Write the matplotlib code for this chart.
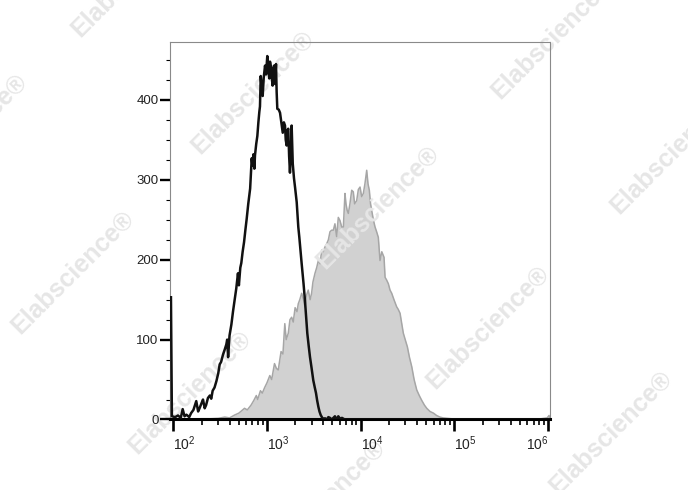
import matplotlib
matplotlib.use('Agg')
import matplotlib.pyplot as plt
from matplotlib.ticker import MultipleLocator, LogLocator, NullFormatter
import numpy as np

plt.rcParams['font.family'] = ['Liberation Sans', 'DejaVu Sans']
plt.rcParams['mathtext.fontset'] = 'custom'
plt.rcParams['mathtext.rm'] = 'Liberation Sans'

# --------------------------
# histogram data (log10 intensity, count)
# --------------------------
# unstained control (black line)
ctrl_log = [1.975, 1.985, 2.02, 2.05, 2.08, 2.10, 2.12, 2.14, 2.17, 2.19, 2.215, 2.245, 2.265,
            2.28, 2.30, 2.317, 2.335, 2.35, 2.37, 2.39, 2.405, 2.42, 2.44, 2.46, 2.48, 2.495,
            2.51, 2.53, 2.55, 2.566, 2.575, 2.585, 2.60, 2.62, 2.637, 2.655, 2.672, 2.69, 2.70,
            2.715, 2.726, 2.74, 2.755, 2.77, 2.783, 2.80, 2.82, 2.837, 2.845, 2.855, 2.865,
            2.872, 2.885, 2.897, 2.908, 2.918, 2.925, 2.933, 2.943, 2.954, 2.965, 2.979, 2.99,
            3.003, 3.012, 3.025, 3.032, 3.039, 3.05, 3.06, 3.068, 3.075, 3.086, 3.096, 3.103,
            3.11, 3.125, 3.139, 3.153, 3.168, 3.18, 3.192, 3.20, 3.21, 3.218, 3.227, 3.236,
            3.245, 3.255, 3.263, 3.275, 3.288, 3.30, 3.317, 3.334, 3.345, 3.37, 3.39, 3.405,
            3.43, 3.445, 3.459, 3.475, 3.494, 3.51, 3.523, 3.535, 3.548, 3.56, 3.573, 3.59,
            3.605, 3.62, 3.64, 3.655, 3.672, 3.69, 3.708, 3.725, 3.74, 3.761, 3.78, 3.80,
            3.83, 3.87, 6.02]
ctrl_cnt = [153, 4, 3, 5, 2, 13, 4, 6, 3, 8, 12, 23, 10,
            14, 20, 25, 14, 18, 27, 30, 26, 36, 40, 48, 58, 69,
            72, 81, 88, 94, 100, 78, 105, 119, 135, 150, 164, 183, 168,
            190, 196, 210, 222, 238, 251, 270, 289, 327, 318, 332, 314,
            331, 345, 355, 372, 385, 392, 430, 415, 405, 428, 443, 432,
            455, 440, 427, 448, 443, 430, 418, 440, 443, 420, 445, 410,
            389, 388, 384, 372, 359, 372, 368, 350, 343, 362, 364, 330,
            309, 335, 368, 320, 302, 290, 272, 241, 228, 195, 170, 149,
            108, 92, 78, 65, 49, 40, 33, 24, 16, 10, 5.6, 2,
            1, 1.5, 0, 3, 2, 0, 2, 4, 0, 4, 1, 2,
            0, 0, 0]

# stained sample (grey filled)
stain_log = [2.0, 2.2, 2.3, 2.4, 2.48, 2.55, 2.60, 2.655, 2.70, 2.73, 2.76, 2.79, 2.83, 2.86,
             2.886, 2.90, 2.93, 2.95, 2.975, 3.0, 3.03, 3.05, 3.08, 3.10, 3.12, 3.15, 3.17,
             3.19, 3.205, 3.227, 3.245, 3.263, 3.28, 3.30, 3.32, 3.334, 3.35, 3.37, 3.39,
             3.405, 3.42, 3.44, 3.46, 3.476, 3.49, 3.512, 3.53, 3.548, 3.566, 3.584, 3.60,
             3.619, 3.637, 3.655, 3.672, 3.69, 3.708, 3.725, 3.743, 3.761, 3.779, 3.797,
             3.815, 3.832, 3.843, 3.855, 3.868, 3.885, 3.904, 3.921, 3.935, 3.957, 3.975,
             3.993, 4.01, 4.028, 4.045, 4.064, 4.078, 4.092, 4.105, 4.117, 4.135, 4.153,
             4.17, 4.188, 4.206, 4.225, 4.249, 4.26, 4.275, 4.295, 4.313, 4.331, 4.355,
             4.384, 4.40, 4.42, 4.438, 4.455, 4.475, 4.498, 4.52, 4.545, 4.57, 4.598, 4.625,
             4.651, 4.68, 4.705, 4.74, 4.776, 4.81, 4.846, 4.88, 4.92, 5.0, 5.2, 5.5, 5.9,
             5.99, 6.01, 6.02]
stain_cnt = [0, 0.5, 1, 1, 1.5, 3, 2, 5.6, 8, 11, 14, 12, 18, 24,
             30, 25, 36, 33, 40, 46, 55, 50, 70, 64, 62, 85, 82,
             120, 100, 108, 125, 128, 122, 140, 135, 145, 150, 158, 150,
             141, 155, 162, 150, 158, 172, 183, 190, 199, 195, 212, 210,
             216, 220, 225, 235, 237, 237, 245, 229, 253, 249, 241,
             241, 283, 270, 262, 258, 270, 287, 285, 270, 274, 288,
             291, 279, 283, 295, 312, 295, 287, 270, 262, 250, 241,
             235, 228, 199, 210, 203, 178, 175, 170, 162, 158, 150,
             141, 138, 133, 120, 108, 100, 91, 78, 66, 50, 37, 30,
             24, 18, 14, 10, 8, 5, 3, 2, 1.5, 0.5, 0.3, 0.3, 0.5,
             2, 5, 0]

x_ticks = [1e2, 1e3, 1e4, 1e5, 1e6]
x_ticklabels = ['$\\mathregular{10^{2}}$', '$\\mathregular{10^{3}}$', '$\\mathregular{10^{4}}$',
                '$\\mathregular{10^{5}}$', '$\\mathregular{10^{6}}$']
y_ticks = [0, 100, 200, 300, 400]

ctrl_x = np.power(10.0, ctrl_log)
stain_x = np.power(10.0, stain_log)

fig = plt.figure(figsize=(6.88, 4.90), dpi=100)
ax = fig.add_axes([0.2478, 0.1439, 0.5516, 0.7704])

ax.fill_between(stain_x, stain_cnt, 0, color='#d1d1d1', linewidth=0, zorder=1)
ax.plot(stain_x, stain_cnt, color='#a6a6a6', linewidth=1.1, zorder=1.1)
ax.plot(ctrl_x, ctrl_cnt, color='#111111', linewidth=1.8, zorder=3)

ax.set_xscale('log')
ax.set_xlim(10**1.97, 10**6.02)
ax.set_ylim(0, 472.6)

ax.set_xticks(x_ticks)
ax.set_xticklabels(x_ticklabels, fontsize=10, color='#222222')
ax.xaxis.set_minor_locator(LogLocator(base=10, subs=np.arange(2, 10)))
ax.xaxis.set_minor_formatter(NullFormatter())
for i, lab in enumerate(ax.get_xticklabels()):
    lab.set_ha('right' if i == len(x_ticks) - 1 else 'left')
ax.set_yticks(y_ticks)
ax.set_yticklabels([str(v) for v in y_ticks], fontsize=9.5, color='#222222')
ax.yaxis.set_minor_locator(MultipleLocator(25))

ax.tick_params(axis='x', which='major', length=8.6, width=1.9, pad=2, color='black')
ax.tick_params(axis='x', which='minor', length=4.3, width=1.2, color='black')
ax.tick_params(axis='y', which='major', length=7.2, width=1.7, pad=1.5, color='black')
ax.tick_params(axis='y', which='minor', length=3.2, width=0.8, color='black')

ax.spines['bottom'].set_linewidth(2.2)
ax.spines['bottom'].set_color('black')
for side in ['left', 'top', 'right']:
    ax.spines[side].set_linewidth(0.8)
    ax.spines[side].set_color('#8a8a8a')

# watermark (partly cut at the figure edge, as in the original)
marks = [(253, 92), (378, 207), (73, 272), (488, 327), (553, 37), (672, 152),
         (190, 392), (611, 432), (-34, 135), (133, -25), (324, 501)]
for mx, my in marks:
    ax.text(mx / 688, 1 - my / 490, 'Elabscience®', transform=fig.transFigure,
            fontsize=18, fontweight='bold', color='#e6e6e6', rotation=45,
            rotation_mode='anchor', ha='center', va='center', zorder=1.5, clip_on=False)

fig.savefig('out.png', dpi=100)
